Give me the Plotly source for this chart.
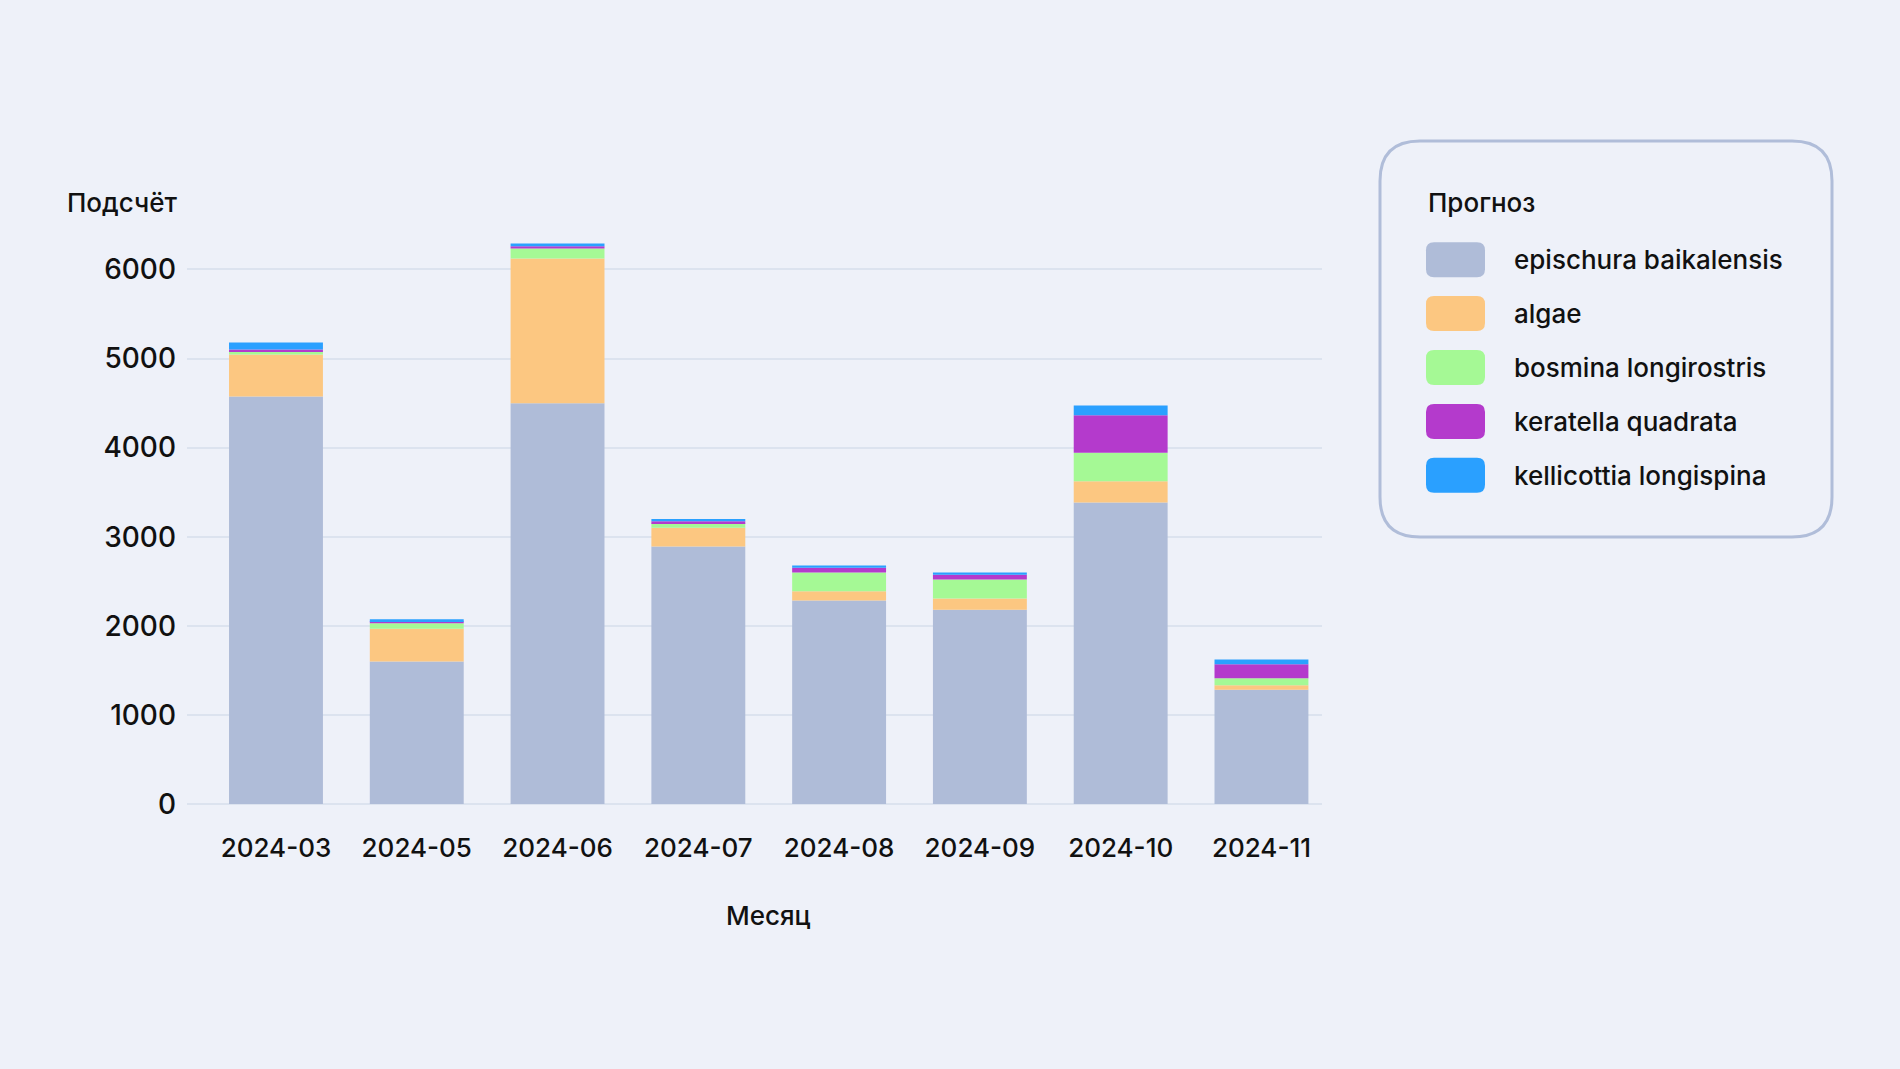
import plotly.graph_objects as go

months = ["2024-03", "2024-05", "2024-06", "2024-07", "2024-08", "2024-09", "2024-10", "2024-11"]
epischura = [4574, 1599, 4498, 2889, 2284, 2180, 3384, 1282]
algae = [471, 367, 1624, 213, 104, 126, 239, 51]
bosmina = [34, 63, 113, 50, 210, 214, 319, 79]
keratella = [22, 23, 25, 22, 53, 52, 422, 157]
kellicottia = [80, 22, 31, 25, 26, 26, 109, 53]

series_names = ["epischura baikalensis", "algae", "bosmina longirostris",
                "keratella quadrata", "kellicottia longispina"]
series_values = [epischura, algae, bosmina, keratella, kellicottia]
colors = ["#afbcd8", "#fcc781", "#a5f995", "#b43acc", "#2aa0ff"]

legend_title = "Прогноз"
y_title = "Подсчёт"
x_title = "Месяц"

W, H = 1900, 1069
ML, MR, MT, MB = 187, 578, 216, 265
PW, PH = W - ML - MR, H - MT - MB
FONT = "Inter"
TXT = "#111111"
BG = "#eef1f9"
GRID = "#dce3ef"


def px(x):
    return (x - ML) / PW


def py(y):
    return (H - MB - y) / PH


def rounded_rect(x0, y0, x1, y1, r):
    pts = [
        ("M", [(x0 + r, y0)]),
        ("L", [(x1 - r, y0)]),
        ("Q", [(x1, y0), (x1, y0 + r)]),
        ("L", [(x1, y1 - r)]),
        ("Q", [(x1, y1), (x1 - r, y1)]),
        ("L", [(x0 + r, y1)]),
        ("Q", [(x0, y1), (x0, y1 - r)]),
        ("L", [(x0, y0 + r)]),
        ("Q", [(x0, y0), (x0 + r, y0)]),
    ]
    s = ""
    for cmd, ps in pts:
        s += cmd + " ".join(f"{px(a):.5f},{py(b):.5f}" for a, b in ps) + " "
    return s + "Z"


fig = go.Figure()
for name, vals, col in zip(series_names, series_values, colors):
    fig.add_trace(go.Bar(x=months, y=vals, name=name, marker_color=col,
                         marker_line_width=0, showlegend=False))

shapes = []
annotations = []

# legend box
shapes.append(dict(type="path", xref="paper", yref="paper",
                   path=rounded_rect(1380, 141, 1832, 537, 40),
                   line=dict(color="#b0bdd9", width=3), fillcolor="rgba(0,0,0,0)",
                   layer="above"))
annotations.append(dict(text=legend_title, xref="paper", yref="paper",
                        x=px(1426), y=py(202), xanchor="left", yanchor="middle",
                        showarrow=False, font=dict(family=FONT, size=26, color=TXT, weight=500)))
for i, (name, col) in enumerate(zip(series_names, colors)):
    cy = 259.7 + 53.9 * i
    shapes.append(dict(type="path", xref="paper", yref="paper",
                       path=rounded_rect(1426, cy - 17.5, 1485, cy + 17.5, 8),
                       line=dict(width=0), fillcolor=col, layer="above"))
    annotations.append(dict(text=name, xref="paper", yref="paper",
                            x=px(1512), y=py(cy), xanchor="left", yanchor="middle",
                            showarrow=False, font=dict(family=FONT, size=26, color=TXT, weight=500)))

annotations.append(dict(text=y_title, xref="paper", yref="paper",
                        x=px(65), y=py(203), xanchor="left", yanchor="middle",
                        showarrow=False, font=dict(family=FONT, size=26, color=TXT, weight=500)))
annotations.append(dict(text=x_title, xref="paper", yref="paper",
                        x=px(768), y=py(915), xanchor="center", yanchor="middle",
                        showarrow=False, font=dict(family=FONT, size=26, color=TXT, weight=500)))

fig.update_layout(
    width=W, height=H,
    margin=dict(l=ML, r=MR, t=MT, b=MB, autoexpand=False),
    paper_bgcolor=BG, plot_bgcolor=BG,
    barmode="relative", bargap=0.333,
    font=dict(family=FONT, size=26, color=TXT),
    shapes=shapes, annotations=annotations,
    xaxis=dict(type="category", range=[-0.632, 7.43], showgrid=False,
               showline=False, zeroline=False, ticks="",
               ticklabelstandoff=26, tickfont=dict(family=FONT, size=26, color=TXT, weight=500)),
    yaxis=dict(range=[0, 6600], tickvals=[0, 1000, 2000, 3000, 4000, 5000, 6000],
               showgrid=True, gridcolor=GRID, gridwidth=2,
               zeroline=True, zerolinecolor=GRID, zerolinewidth=2,
               showline=False, ticks="", ticklabelstandoff=10,
               tickfont=dict(family=FONT, size=28, color=TXT, weight=500)),
)

fig.write_html("out.html")
